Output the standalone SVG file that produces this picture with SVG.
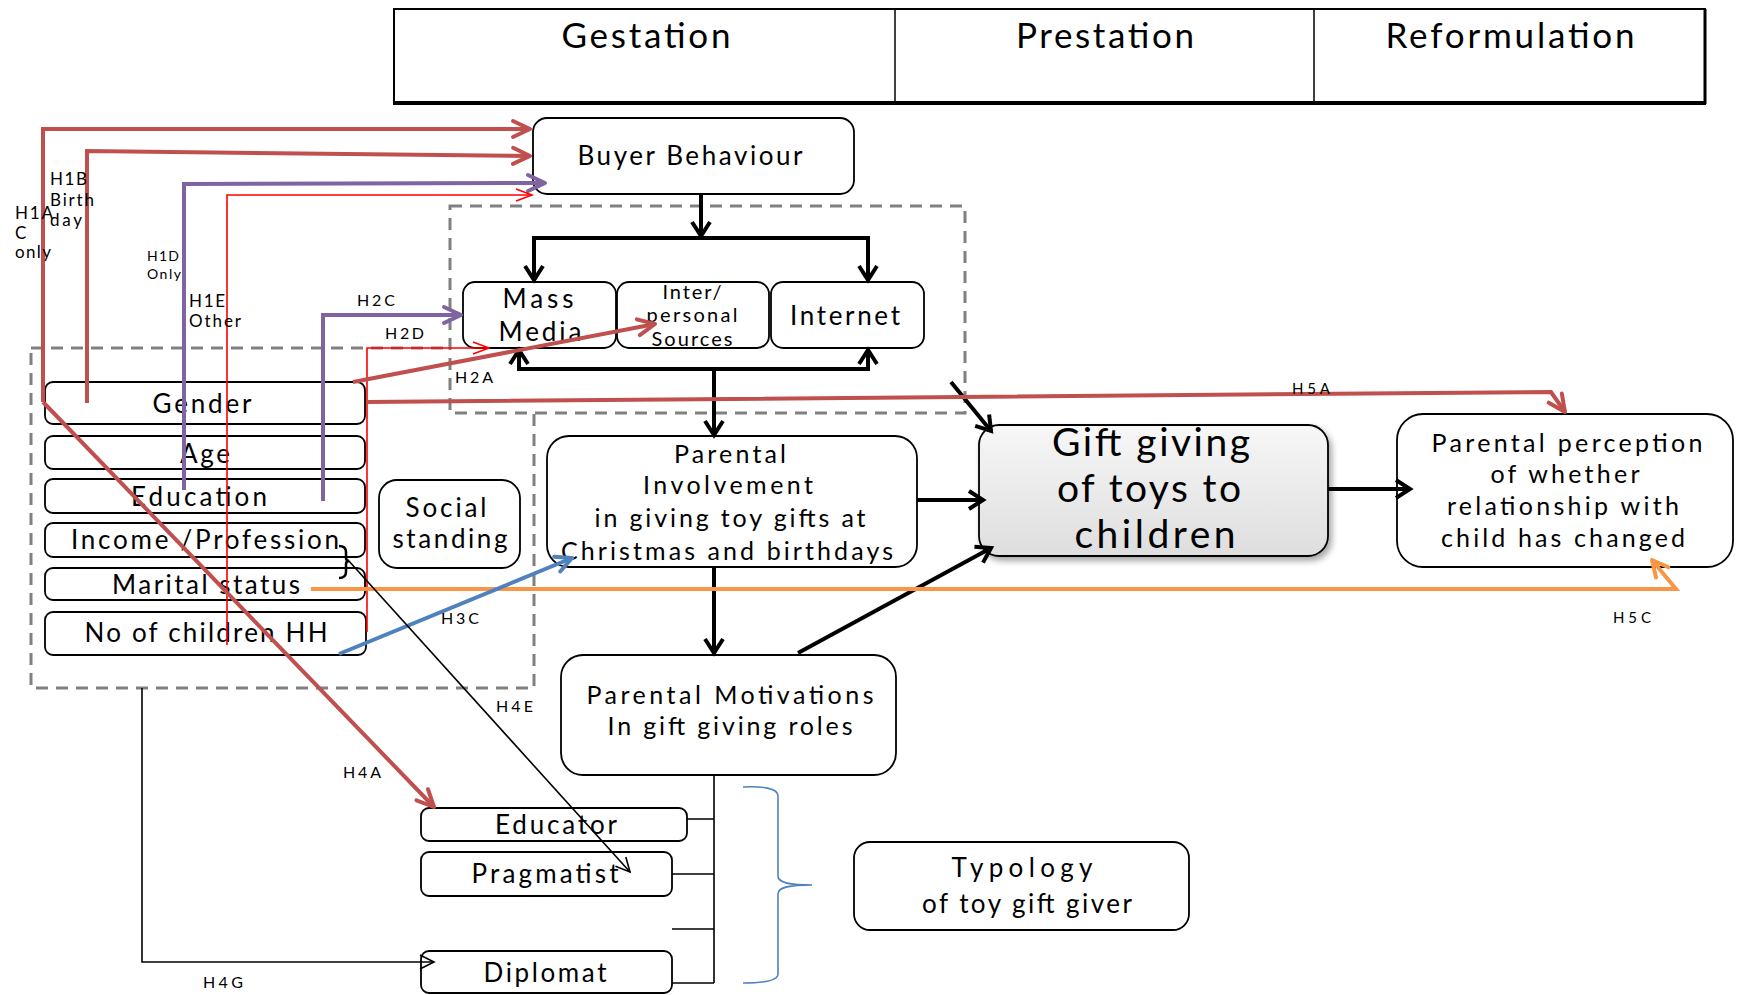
<svg xmlns="http://www.w3.org/2000/svg" width="1742" height="995" viewBox="0 0 1742 995">
  <style>
    text { font-family: Lato, "Liberation Sans", sans-serif; fill: #000; }
    .c { text-anchor: middle; }
    .box { fill: #fff; stroke: #000; stroke-width: 1.8; }
    .dash { fill: none; stroke: #808080; stroke-width: 3; stroke-dasharray: 12 8; }
    .blk { fill: none; stroke: #000; stroke-width: 4; }
    .thin { fill: none; stroke: #000; stroke-width: 1.6; }
    .red { fill: none; stroke: #C0504D; stroke-width: 4; }
    .pur { fill: none; stroke: #8064A2; stroke-width: 4; }
    .rt { fill: none; stroke: #FF0000; stroke-width: 1.6; }
    .blu { fill: none; stroke: #4F81BD; stroke-width: 4; }
    .org { fill: none; stroke: #F79646; stroke-width: 4; }
    .lbl { font-size: 16px; }
    .f23 { font-size: 26px; }
    .f22 { font-size: 25px; }
  </style>
  <defs>
    <linearGradient id="giftFill" x1="0" y1="0" x2="0" y2="1">
      <stop offset="0" stop-color="#f7f7f7"/>
      <stop offset="1" stop-color="#dedede"/>
    </linearGradient>
    <filter id="shadow" x="-10%" y="-10%" width="130%" height="130%">
      <feDropShadow dx="3" dy="4" stdDeviation="3" flood-color="#000" flood-opacity="0.35"/>
    </filter>
    <marker id="aRed" markerUnits="userSpaceOnUse" markerWidth="30" markerHeight="30" viewBox="-20 -15 30 30" refX="0" refY="0" orient="auto" overflow="visible">
      <path d="M-17,-8 L0,0 L-17,8" fill="none" stroke="#C0504D" stroke-width="4" stroke-linejoin="round" stroke-linecap="round"/>
    </marker>
    <marker id="aPur" markerUnits="userSpaceOnUse" markerWidth="30" markerHeight="30" viewBox="-20 -15 30 30" refX="0" refY="0" orient="auto" overflow="visible">
      <path d="M-17,-8 L0,0 L-17,8" fill="none" stroke="#8064A2" stroke-width="4" stroke-linejoin="round" stroke-linecap="round"/>
    </marker>
    <marker id="aRt" markerUnits="userSpaceOnUse" markerWidth="30" markerHeight="30" viewBox="-20 -15 30 30" refX="0" refY="0" orient="auto" overflow="visible">
      <path d="M-16,-6 L0,0 L-16,6" fill="none" stroke="#FF0000" stroke-width="1.6"/>
    </marker>
    <marker id="aBlu" markerUnits="userSpaceOnUse" markerWidth="30" markerHeight="30" viewBox="-20 -15 30 30" refX="0" refY="0" orient="auto" overflow="visible">
      <path d="M-16,-8 L0,0 L-16,8" fill="none" stroke="#4F81BD" stroke-width="4" stroke-linejoin="round" stroke-linecap="round"/>
    </marker>
    <marker id="aOrg" markerUnits="userSpaceOnUse" markerWidth="30" markerHeight="30" viewBox="-20 -15 30 30" refX="0" refY="0" orient="auto" overflow="visible">
      <path d="M-16,-8 L0,0 L-16,8" fill="none" stroke="#F79646" stroke-width="4" stroke-linejoin="round" stroke-linecap="round"/>
    </marker>
    <marker id="aBlk" markerUnits="userSpaceOnUse" markerWidth="30" markerHeight="30" viewBox="-20 -15 30 30" refX="0" refY="0" orient="auto" overflow="visible">
      <path d="M-14,-9 L0,0 L-14,9" fill="none" stroke="#000" stroke-width="4" stroke-linejoin="miter"/>
    </marker>
    <marker id="aThin" markerUnits="userSpaceOnUse" markerWidth="30" markerHeight="30" viewBox="-20 -15 30 30" refX="0" refY="0" orient="auto" overflow="visible">
      <path d="M-14,-7 L0,0 L-14,7" fill="none" stroke="#000" stroke-width="1.6"/>
    </marker>
  </defs>

  <!-- phase header table -->
  <g id="phases">
    <rect x="394" y="9" width="1311" height="94" fill="#fff" stroke="#000" stroke-width="2"/>
    <line x1="393" y1="103" x2="1706" y2="103" stroke="#000" stroke-width="4"/>
    <line x1="1705" y1="9" x2="1705" y2="104" stroke="#000" stroke-width="3"/>
    <line x1="895" y1="9" x2="895" y2="103" stroke="#000" stroke-width="1.5"/>
    <line x1="1314" y1="9" x2="1314" y2="103" stroke="#000" stroke-width="1.5"/>
    <text class="c" x="646" y="48" font-size="35" textLength="169" lengthAdjust="spacing">Gestation</text>
    <text class="c" x="1105" y="48" font-size="35" textLength="178" lengthAdjust="spacing">Prestation</text>
    <text class="c" x="1510" y="48" font-size="35" textLength="249" lengthAdjust="spacing">Reformulation</text>
  </g>

  <!-- dashed groupings -->
  <g id="groups">
    <rect class="dash" x="450" y="206" width="515" height="207"/>
    <path class="dash" d="M31,348 H450 M534,414 V688 H31 V348"/>
  </g>

  <g id="buyer-behaviour">
    <rect class="box" x="533" y="118" width="321" height="76" rx="14"/>
    <text class="c" x="690" y="165" font-size="26" textLength="225" lengthAdjust="spacing">Buyer Behaviour</text>
  </g>

  <g id="mass-media">
    <rect class="box" x="463" y="282" width="153" height="66" rx="12"/>
    <text class="c f23" x="538" y="308" textLength="71" lengthAdjust="spacing">Mass</text>
    <text class="c f23" x="540" y="341" textLength="83" lengthAdjust="spacing">Media</text>
  </g>
  <g id="interpersonal-sources">
    <rect class="box" x="617" y="282" width="152" height="66" rx="12"/>
    <text class="c" x="692" y="299" font-size="20" textLength="59" lengthAdjust="spacing">Inter/</text>
    <text class="c" x="692" y="322" font-size="20" textLength="91" lengthAdjust="spacing">personal</text>
    <text class="c" x="692" y="346" font-size="20" textLength="81" lengthAdjust="spacing">Sources</text>
  </g>
  <g id="internet">
    <rect class="box" x="771" y="282" width="153" height="66" rx="12"/>
    <text class="c f23" x="845" y="325" textLength="110" lengthAdjust="spacing">Internet</text>
  </g>

  <g id="gender">
    <rect class="box" x="45" y="382" width="320" height="42" rx="8"/>
    <text class="c f23" x="202" y="413" textLength="99" lengthAdjust="spacing">Gender</text>
  </g>
  <g id="age">
    <rect class="box" x="45" y="436" width="320" height="33" rx="8"/>
    <text class="c f23" x="205" y="463" textLength="50" lengthAdjust="spacing">Age</text>
  </g>
  <g id="education">
    <rect class="box" x="45" y="479" width="320" height="34" rx="8"/>
    <text class="c f23" x="199" y="506" textLength="136" lengthAdjust="spacing">Education</text>
  </g>
  <g id="income-profession">
    <rect class="box" x="45" y="523" width="320" height="34" rx="8"/>
    <text class="c f23" x="205" y="549" textLength="268" lengthAdjust="spacing">Income /Profession</text>
  </g>
  <g id="marital-status">
    <rect class="box" x="45" y="568" width="320" height="32" rx="8"/>
    <text class="c f23" x="206" y="594" textLength="188" lengthAdjust="spacing">Marital status</text>
  </g>
  <g id="children-hh">
    <rect class="box" x="45" y="612" width="321" height="43" rx="8"/>
    <text class="c f23" x="206" y="642" textLength="243" lengthAdjust="spacing">No of children  HH</text>
  </g>
  <g id="social-standing">
    <rect class="box" x="379" y="480" width="141" height="88" rx="18"/>
    <text class="c f23" x="446" y="517" textLength="81" lengthAdjust="spacing">Social</text>
    <text class="c f23" x="450" y="548" textLength="115" lengthAdjust="spacing">standing</text>
  </g>

  <g id="parental-involvement">
    <rect class="box" x="547" y="436" width="370" height="131" rx="22"/>
    <text class="c f22" x="730" y="463" textLength="112" lengthAdjust="spacing">Parental</text>
    <text class="c f22" x="728" y="494" textLength="170" lengthAdjust="spacing">Involvement</text>
    <text class="c f22" x="730" y="527" textLength="271" lengthAdjust="spacing">in giving toy gifts at</text>
    <text class="c f22" x="727" y="560" textLength="332" lengthAdjust="spacing">Christmas and birthdays</text>
  </g>

  <g id="gift-giving">
    <rect x="979" y="425" width="349" height="131" rx="20" fill="url(#giftFill)" stroke="#000" stroke-width="1.8" filter="url(#shadow)"/>
    <text class="c" x="1151" y="456" font-size="39" textLength="198" lengthAdjust="spacing">Gift giving</text>
    <text class="c" x="1149" y="502" font-size="39" textLength="184" lengthAdjust="spacing">of toys to</text>
    <text class="c" x="1155" y="548" font-size="39" textLength="161" lengthAdjust="spacing">children</text>
  </g>

  <g id="parental-perception">
    <rect class="box" x="1397" y="414" width="336" height="153" rx="26"/>
    <text class="c f22" x="1567" y="452" textLength="271" lengthAdjust="spacing">Parental perception</text>
    <text class="c f22" x="1565" y="483" textLength="149" lengthAdjust="spacing">of whether</text>
    <text class="c f22" x="1563" y="515" textLength="232" lengthAdjust="spacing">relationship with</text>
    <text class="c f22" x="1563" y="547" textLength="244" lengthAdjust="spacing">child has changed</text>
  </g>

  <g id="parental-motivations">
    <rect class="box" x="561" y="655" width="335" height="120" rx="22"/>
    <text class="c f22" x="730" y="704" textLength="287" lengthAdjust="spacing">Parental Motivations</text>
    <text class="c f22" x="730" y="735" textLength="245" lengthAdjust="spacing">In gift giving  roles</text>
  </g>

  <g id="educator">
    <rect class="box" x="421" y="808" width="266" height="33" rx="8"/>
    <text class="c f23" x="556" y="834" textLength="122" lengthAdjust="spacing">Educator</text>
  </g>
  <g id="pragmatist">
    <rect class="box" x="421" y="852" width="251" height="44" rx="8"/>
    <text class="c f23" x="545" y="883" textLength="147" lengthAdjust="spacing">Pragmatist</text>
  </g>
  <g id="diplomat">
    <rect class="box" x="421" y="951" width="251" height="42" rx="8"/>
    <text class="c f23" x="545" y="982" textLength="123" lengthAdjust="spacing">Diplomat</text>
  </g>

  <g id="typology">
    <rect class="box" x="854" y="842" width="335" height="88" rx="16"/>
    <text class="c" x="1022" y="877" font-size="26" textLength="141" lengthAdjust="spacing">Typology</text>
    <text class="c" x="1027" y="913" font-size="26" textLength="210" lengthAdjust="spacing">of toy gift giver</text>
  </g>

  <!-- connectors and hypothesis paths -->
  <g id="connectors">
    <!-- main flow -->
    <path class="blk" d="M701,194 V236" marker-end="url(#aBlk)"/>
    <path class="blk" d="M701,238 H534 V280" marker-end="url(#aBlk)"/>
    <path class="blk" d="M701,238 H868 V280" marker-end="url(#aBlk)"/>
    <path class="blk" d="M714,369 H519 V350" marker-end="url(#aBlk)"/>
    <path class="blk" d="M714,369 H868 V350" marker-end="url(#aBlk)"/>
    <path class="blk" d="M714,369 V435" marker-end="url(#aBlk)"/>
    <path class="blk" d="M714,567 V653" marker-end="url(#aBlk)"/>
    <path class="blk" d="M917,500 H983" marker-end="url(#aBlk)"/>
    <path class="blk" d="M951,382 L991,431" marker-end="url(#aBlk)"/>
    <path class="blk" d="M798,653 L991,548" marker-end="url(#aBlk)"/>
    <path class="blk" d="M1328,489 H1410" marker-end="url(#aBlk)"/>

    <!-- role tree -->
    <path class="thin" stroke-width="2" d="M714,775 V983 M687,819 H714 M672,874 H714 M672,929 H714 M672,983 H714"/>
    <path fill="none" stroke="#4F81BD" stroke-width="1.6" d="M743,787 C762,786 778,788 778,796 V876 C778,883 790,885 812,885 C790,885 778,887 778,894 V974 C778,981 762,983 743,983"/>

    <!-- H1 paths -->
    <path class="red" d="M43,402 V129 H530" marker-end="url(#aRed)"/>
    <path class="red" d="M87,403 V151 L530,156" marker-end="url(#aRed)"/>
    <path class="pur" d="M184,490 V184 L545,183" marker-end="url(#aPur)"/>
    <path class="rt" d="M227,645 V195 H532" marker-end="url(#aRt)"/>

    <!-- H2 paths -->
    <path class="pur" d="M323,501 V315 H461" marker-end="url(#aPur)"/>
    <path class="rt" d="M367,632 V348 H489" marker-end="url(#aRt)"/>
    <path class="red" d="M353,382 L655,324" marker-end="url(#aRed)"/>

    <!-- H5 paths -->
    <path class="red" d="M367,402 L1551,392 L1565,412" marker-end="url(#aRed)"/>
    <path class="org" d="M311,589 H1676 L1652,560" marker-end="url(#aOrg)"/>

    <!-- H3 / H4 paths -->
    <path class="blu" d="M339,654 L572,558" marker-end="url(#aBlu)"/>
    <path class="red" d="M43,402 L434,807" marker-end="url(#aRed)"/>
    <path fill="none" stroke="#000" stroke-width="2.5" d="M339,546 Q346,546 346,552 V558 Q346,561 349,561 Q346,561 346,564 V572 Q346,578 339,578"/>
    <path class="thin" d="M348,560 L630,872" marker-end="url(#aThin)"/>
    <path class="thin" d="M142,688 V962 H434" marker-end="url(#aThin)"/>

    <!-- hypothesis labels -->
    <text x="15" y="219" font-size="17" textLength="38" lengthAdjust="spacing">H1A</text>
    <text x="15" y="239" font-size="17">C</text>
    <text x="15" y="258" font-size="17" textLength="36" lengthAdjust="spacing">only</text>
    <text x="50" y="185" font-size="17" textLength="37" lengthAdjust="spacing">H1B</text>
    <text x="50" y="206" font-size="17" textLength="44" lengthAdjust="spacing">Birth</text>
    <text x="50" y="226" font-size="17" textLength="32" lengthAdjust="spacing">day</text>
    <text x="147" y="261" font-size="14" textLength="32" lengthAdjust="spacing">H1D</text>
    <text x="147" y="279" font-size="14" textLength="34" lengthAdjust="spacing">Only</text>
    <text x="189" y="307" font-size="17" textLength="36" lengthAdjust="spacing">H1E</text>
    <text x="189" y="327" font-size="17" textLength="52" lengthAdjust="spacing">Other</text>
    <text class="lbl" x="357" y="306" textLength="38" lengthAdjust="spacing">H2C</text>
    <text class="lbl" x="385" y="339" textLength="39" lengthAdjust="spacing">H2D</text>
    <text class="lbl" x="455" y="383" textLength="38" lengthAdjust="spacing">H2A</text>
    <text class="lbl" x="441" y="624" textLength="38" lengthAdjust="spacing">H3C</text>
    <text class="lbl" x="496" y="712" textLength="37" lengthAdjust="spacing">H4E</text>
    <text class="lbl" x="343" y="778" textLength="38" lengthAdjust="spacing">H4A</text>
    <text class="lbl" x="203" y="988" textLength="40" lengthAdjust="spacing">H4G</text>
    <text x="1292" y="394" font-size="15" textLength="38" lengthAdjust="spacing">H5A</text>
    <text x="1613" y="623" font-size="15" textLength="38" lengthAdjust="spacing">H5C</text>
  </g>
</svg>
